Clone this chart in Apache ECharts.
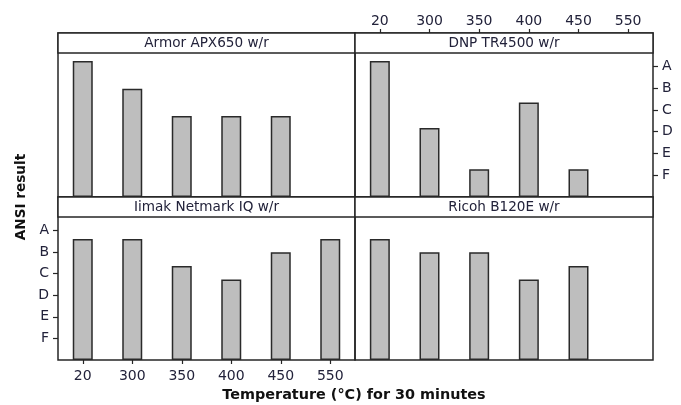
<!DOCTYPE html>
<html>
<head>
<meta charset="utf-8">
<script src="https://cdn.jsdelivr.net/npm/echarts@6/dist/echarts.min.js"></script>
<style>
  html, body { margin: 0; padding: 0; background: #fff; }
  #chart { width: 681px; height: 405px; }
</style>
</head>
<body>
<div id="chart"></div>
<script>
"use strict";

// categories and tick labels
var temps = ['20', '300', '350', '400', '450', '550'];
var grades = ['A', 'B', 'C', 'D', 'E', 'F'];   // A = 6 ... F = 1
var gradeValues = [1, 2, 3, 4, 5, 6];
var panelNames = ['Armor APX650 w/r', 'DNP TR4500 w/r', 'Iimak Netmark IQ w/r', 'Ricoh B120E w/r'];

// values (mean ANSI grade, F=1 ... A=6)
var armor = [6.25, 4.98, 3.72, 3.72, 3.72, null];
var dnp   = [6.25, 3.17, 1.27, 4.35, 1.27, null];
var iimak = [5.6, 5.6, 4.35, 3.72, 4.98, 5.6];
var ricoh = [5.6, 4.98, 4.98, 3.72, 4.35, null];

var seriesData = [armor, dnp, iimak, ricoh];

var FONT = 'DejaVu Sans';
var TXT = '#22223a';
var LINE = '#262626';

// panel boxes: left / width per column, top of strip / total height per row
var cols = [58, 355];
var widths = [297, 298];
var rows = [33, 197];
var heights = [164, 163];
var STRIP = 20;
// plot part is 6.62 grade units high; the strip sits on top of it
var YMAX = 6.62 * 164 / 144;

var grids = [], xAxes = [], yAxes = [], series = [], strips = [];

for (var i = 0; i < 4; i++) {
  var c = i % 2, r = Math.floor(i / 2);
  grids.push({
    left: cols[c], top: rows[r], width: widths[c], height: heights[r],
    show: true, borderColor: LINE, borderWidth: 1.5, backgroundColor: 'transparent'
  });

  var showX = (i === 1 || i === 2);
  xAxes.push({
    gridIndex: i,
    type: 'category',
    data: temps,
    position: i === 1 ? 'top' : 'bottom',
    show: showX,
    axisLine: { show: false, onZero: false },
    axisTick: { show: true, alignWithLabel: true, length: 4, lineStyle: { color: LINE, width: 1.2 } },
    axisLabel: { color: TXT, fontFamily: FONT, fontSize: 14, margin: i === 1 ? 5 : 9 }
  });

  var showY = (i === 1 || i === 2);
  yAxes.push({
    gridIndex: i,
    type: 'value',
    min: 0,
    max: YMAX,
    position: i === 1 ? 'right' : 'left',
    show: showY,
    splitLine: { show: false },
    axisLine: { show: false, onZero: false },
    axisTick: { show: true, length: 5, customValues: gradeValues, lineStyle: { color: LINE, width: 1.2 } },
    axisLabel: {
      color: TXT, fontFamily: FONT, fontSize: 14, margin: 9,
      customValues: gradeValues,
      formatter: function (v) { return grades[6 - v] || ''; }
    }
  });

  series.push({
    type: 'bar',
    name: panelNames[i],
    xAxisIndex: i,
    yAxisIndex: i,
    barWidth: 20,
    data: seriesData[i],
    itemStyle: { color: '#bebebe', borderColor: '#2a2a2a', borderWidth: 1.5 }
  });

  // strip with the panel name
  strips.push({
    type: 'rect',
    shape: { x: cols[c], y: rows[r], width: widths[c], height: STRIP },
    style: { fill: '#fff', stroke: LINE, lineWidth: 1.5 },
    z: 10
  });
  strips.push({
    type: 'text',
    x: cols[c] + widths[c] / 2,
    y: rows[r] + STRIP / 2 + 0.5,
    style: {
      text: panelNames[i], fill: TXT, font: '13.6px "' + FONT + '"',
      align: 'center', verticalAlign: 'middle'
    },
    z: 11
  });
}

// axis titles
strips.push({
  type: 'text',
  x: 21, y: 197,
  rotation: Math.PI / 2,
  style: {
    text: 'ANSI result', fill: '#111', font: 'bold 13.6px "' + FONT + '"',
    align: 'center', verticalAlign: 'middle'
  }
});
strips.push({
  type: 'text',
  x: 354, y: 395,
  style: {
    text: 'Temperature (\u00B0C) for 30 minutes', fill: '#111', font: 'bold 14.4px "' + FONT + '"',
    align: 'center', verticalAlign: 'middle'
  }
});

var chart = echarts.init(document.getElementById('chart'), null, { renderer: 'canvas' });
var option = {
  animation: false,
  backgroundColor: '#fff',
  grid: grids,
  xAxis: xAxes,
  yAxis: yAxes,
  series: series,
  graphic: strips
};
chart.setOption(option);
</script>
</body>
</html>
